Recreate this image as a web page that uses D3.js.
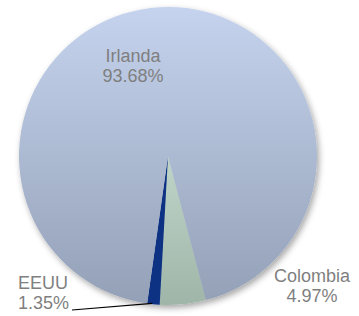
<!DOCTYPE html>
<html>
<head>
<meta charset="utf-8">
<script src="https://cdn.jsdelivr.net/npm/d3@7"></script>
<style>
  body { margin: 0; background: #fff; }
  svg { display: block; }
</style>
</head>
<body>
<svg id="pie" width="359" height="316"></svg>
<script>
var countries = ["Colombia", "EEUU", "Irlanda"];
var shares = [4.97, 1.35, 93.68];
var labels = ["4.97%", "1.35%", "93.68%"];

var svg = d3.select("#pie"),
    cx = 168, cy = 156, r = 149;

var defs = svg.append("defs");

//gradients, light at top, darker at bottom (coords are inside the translated group)
var grads = {
  Irlanda: ["#c5d3ee", "#93a0b6"],
  Colombia: ["#dff5e9", "#9eb5a8"]
};
Object.keys(grads).forEach(function(k) {
  var lg = defs.append("linearGradient")
    .attr("id", "g" + k)
    .attr("gradientUnits", "userSpaceOnUse")
    .attr("x1", 0).attr("y1", -r)
    .attr("x2", 0).attr("y2", r);
  lg.append("stop").attr("offset", "0%").attr("stop-color", grads[k][0]);
  lg.append("stop").attr("offset", "100%").attr("stop-color", grads[k][1]);
});

var f = defs.append("filter").attr("id", "shadow")
  .attr("x", "-10%").attr("y", "-10%").attr("width", "120%").attr("height", "120%");
f.append("feDropShadow").attr("dx", 2).attr("dy", 3).attr("stdDeviation", 3)
  .attr("flood-color", "#000").attr("flood-opacity", 0.35);

var fill = { Colombia: "url(#gColombia)", EEUU: "#0b3383", Irlanda: "url(#gIrlanda)" };

var data = countries.map(function(c, i) { return { name: c, value: shares[i], label: labels[i] }; });

var start = 165.3 * Math.PI / 180;
var pie = d3.pie().sort(null).value(function(d) { return d.value; })
  .startAngle(start).endAngle(start + 2 * Math.PI);
var arc = d3.arc().innerRadius(0).outerRadius(r);

var g = svg.append("g").attr("transform", "translate(" + cx + "," + cy + ")");

var arcs = pie(data);

g.append("g").attr("filter", "url(#shadow)")
  .selectAll("path")
  .data(arcs)
  .enter().append("path")
    .attr("d", arc)
    .attr("fill", function(d) { return fill[d.data.name]; });

//leader line for EEUU
var ee = arcs[1];
var mid = (ee.startAngle + ee.endAngle) / 2;
var px = r * Math.sin(mid), py = -r * Math.cos(mid);
g.append("path")
  .attr("d", "M" + (px - 1) + "," + (py - 1) + "L" + (72 - cx) + "," + (310 - cy))
  .attr("stroke", "#000")
  .attr("stroke-width", 1.2)
  .attr("fill", "none");

//labels
var labelPos = {
  Irlanda: { x: 133, y: 62, anchor: "middle" },
  Colombia: { x: 312, y: 282, anchor: "middle" },
  EEUU: { x: 18, y: 289, anchor: "start" }
};

var lab = svg.selectAll(".lab")
  .data(data)
  .enter().append("text")
    .attr("class", "lab")
    .attr("x", function(d) { return labelPos[d.name].x; })
    .attr("y", function(d) { return labelPos[d.name].y; })
    .attr("text-anchor", function(d) { return labelPos[d.name].anchor; })
    .attr("font-family", "Liberation Sans, Arial, sans-serif")
    .attr("font-size", "18px")
    .attr("fill", "#7f7f7f");

lab.append("tspan")
  .attr("x", function(d) { return labelPos[d.name].x; })
  .text(function(d) { return d.name; });
lab.append("tspan")
  .attr("x", function(d) { return labelPos[d.name].x; })
  .attr("dy", 20)
  .text(function(d) { return d.label; });
</script>
</body>
</html>
